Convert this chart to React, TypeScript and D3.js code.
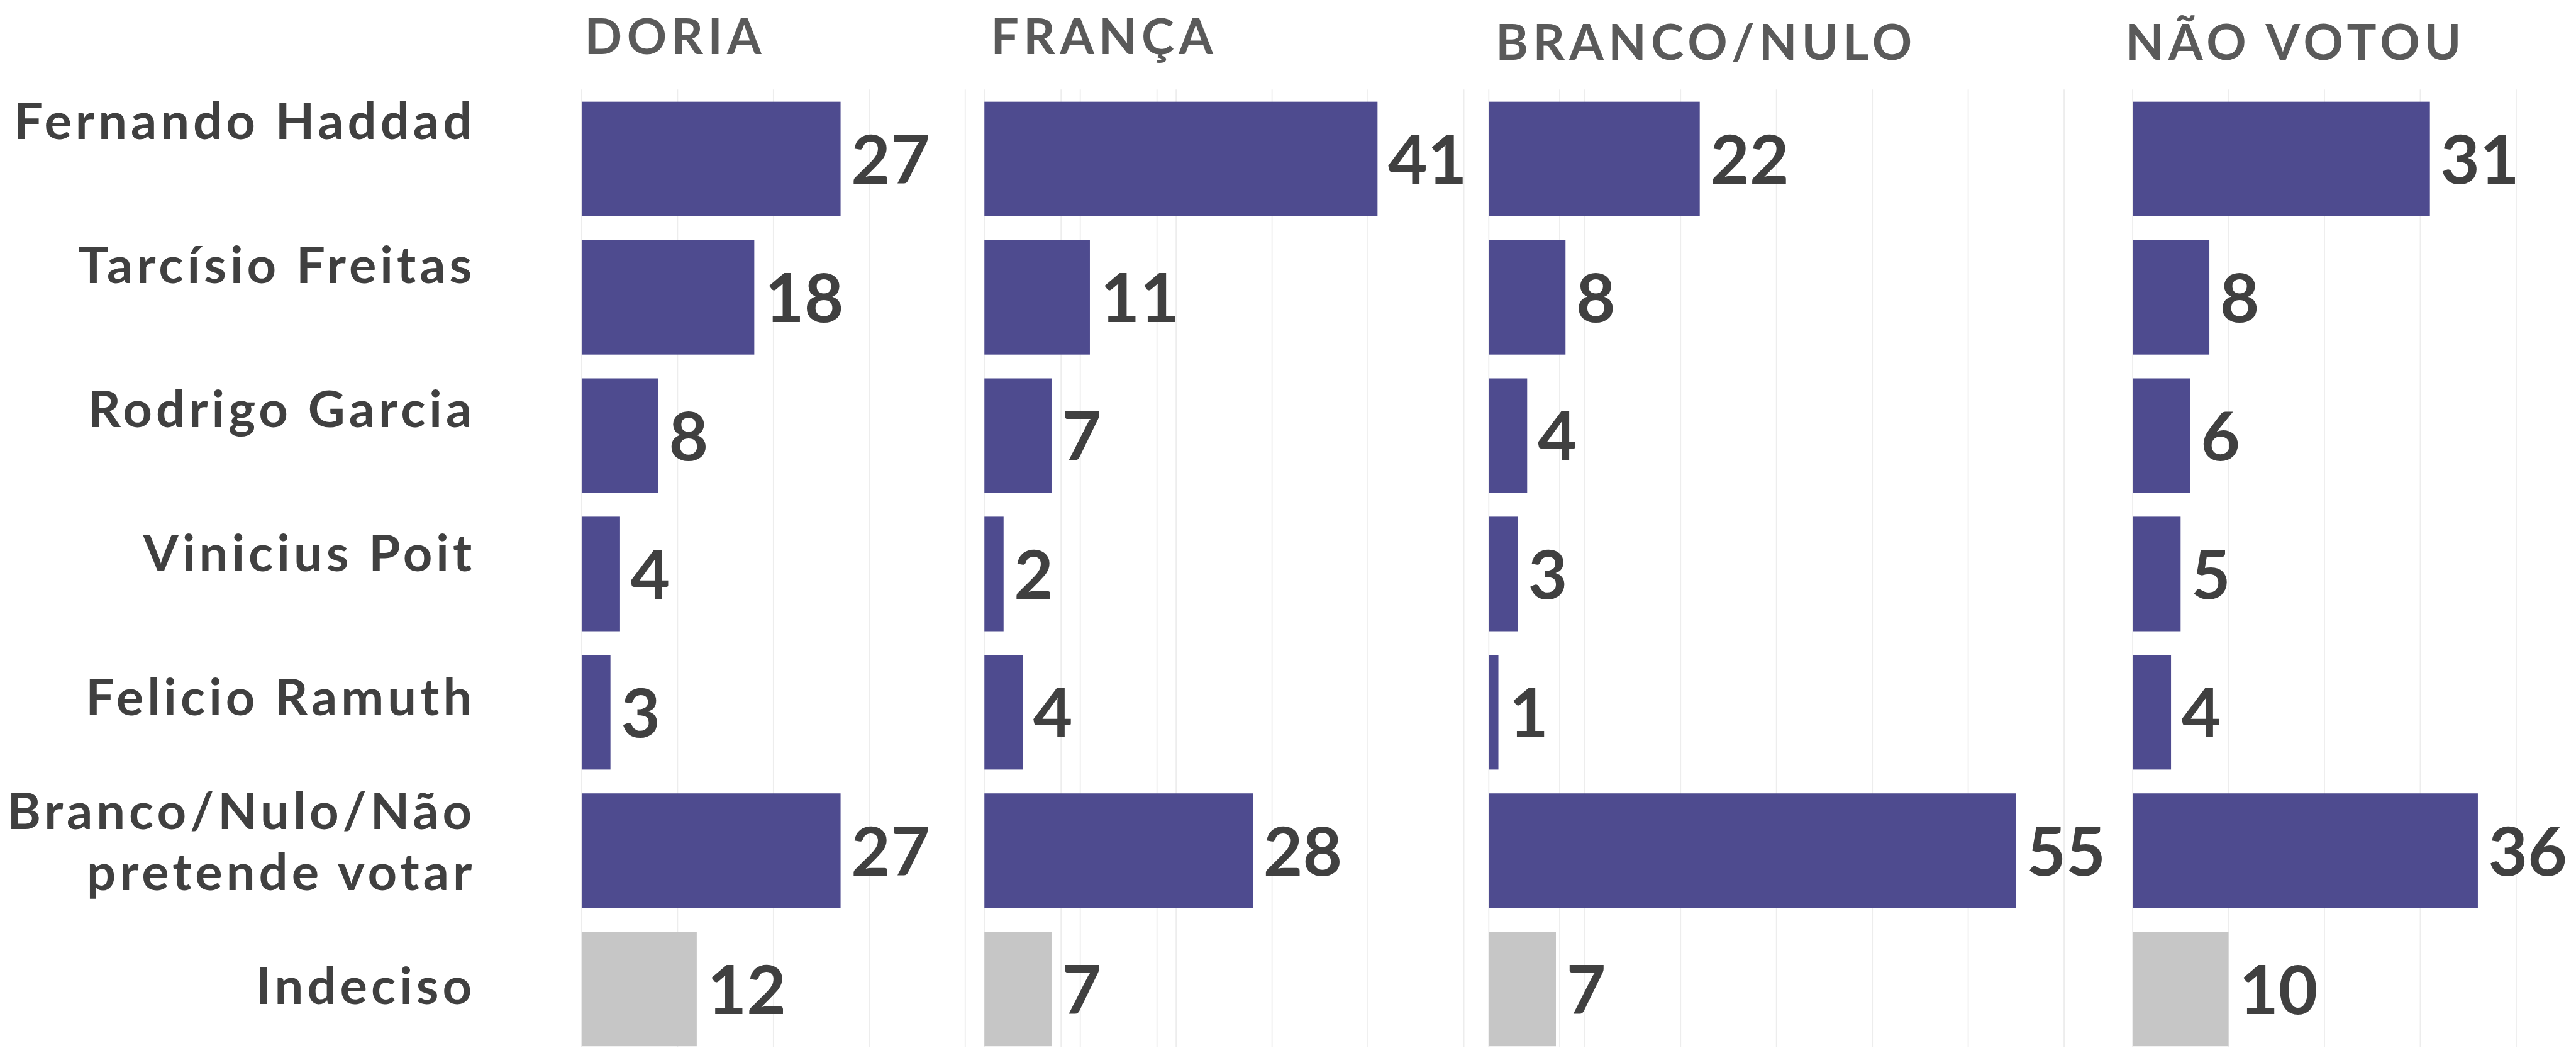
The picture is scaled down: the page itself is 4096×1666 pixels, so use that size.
import React from "react";
import * as d3 from "d3";

const categories = [
  "Fernando Haddad",
  "Tarcísio Freitas",
  "Rodrigo Garcia",
  "Vinicius Poit",
  "Felicio Ramuth",
  "Branco/Nulo/Não pretende votar",
  "Indeciso",
];
const categoryLines: string[][] = [
  ["Fernando Haddad"],
  ["Tarcísio Freitas"],
  ["Rodrigo Garcia"],
  ["Vinicius Poit"],
  ["Felicio Ramuth"],
  ["Branco/Nulo/Não", "pretende votar"],
  ["Indeciso"],
];
const panels = ["DORIA", "FRANÇA", "BRANCO/NULO", "NÃO VOTOU"];
const doria = [27, 18, 8, 4, 3, 27, 12];
const franca = [41, 11, 7, 2, 4, 28, 7];
const brancoNulo = [22, 8, 4, 3, 1, 55, 7];
const naoVotou = [31, 8, 6, 5, 4, 36, 10];
const seriesValues = [doria, franca, brancoNulo, naoVotou];
const gridTicks = [0, 10, 20, 30, 40, 50, 60];
const undecidedCategory = "Indeciso";

// layout (reference pixel space, scaled by S)
const S = 0.924;
const W = 4096;
const H = 1666;
const REF_H = 1802;
const panelX = [1001, 1694, 2562, 3670];
const titleX = [1006, 1705, 2574, 3658];
const titleY = [93, 93, 103, 103];
const PURPLE = "#4E4B8F";
const GREY = "#C6C6C6";
const TEXT = "#404040";
const TITLE = "#5A5A5A";
const GRID = "#EDEDED";
const FONT = "Lato, 'Open Sans', sans-serif";
const LABEL_LS = 6.5;

export default function App() {
  const x = d3.scaleLinear().domain([0, 60]).range([0, 990]);
  const y = d3
    .scaleBand<string>()
    .domain(categories)
    .range([154.5, 154.5 + 7 * 238])
    .paddingInner(0.172)
    .paddingOuter(0.086);
  const yLabel = d3
    .scaleBand<string>()
    .domain(categories)
    .range([209 - 124, 209 - 124 + 7 * 248]);

  return (
    <svg
      width={W}
      height={H}
      style={{ position: "absolute", left: 0, top: 0, display: "block", background: "#fff" }}
    >
      <rect width={W} height={H} fill="#fff" />
      <g transform={`scale(${S})`}>
        {/* gridlines */}
        {panels.map((p, pi) => (
          <g key={"g" + p} transform={`translate(${panelX[pi]},0)`}>
            {gridTicks.map((t) => (
              <line
                key={t}
                x1={x(t)}
                x2={x(t)}
                y1={154}
                y2={REF_H}
                stroke={GRID}
                strokeWidth={2}
              />
            ))}
          </g>
        ))}
        {/* category labels */}
        {categories.map((c, i) => {
          const lines = categoryLines[i];
          const cy = (yLabel(c) as number) + yLabel.bandwidth() / 2;
          const lh = 105;
          const first = cy + 30 - ((lines.length - 1) * lh) / 2;
          return (
            <text
              key={c}
              textAnchor="end"
              fontFamily={FONT}
              fontWeight={700}
              fontSize={88}
              letterSpacing={LABEL_LS}
              fill={TEXT}
            >
              {lines.map((ln, li) => (
                <tspan key={li} x={812 + LABEL_LS} y={first + li * lh}>
                  {ln}
                </tspan>
              ))}
            </text>
          );
        })}
        {/* panels */}
        {panels.map((p, pi) => (
          <g key={p} transform={`translate(${panelX[pi]},0)`}>
            <text
              x={titleX[pi] - panelX[pi]}
              y={titleY[pi]}
              fontFamily={FONT}
              fontWeight={700}
              fontSize={85}
              letterSpacing={8}
              fill={TITLE}
            >
              {p}
            </text>
            {categories.map((c, i) => {
              const v = seriesValues[pi][i];
              const y0 = y(c) as number;
              return (
                <g key={c}>
                  <rect
                    x={x(0)}
                    y={y0}
                    width={x(v) - x(0)}
                    height={y.bandwidth()}
                    fill={c === undecidedCategory ? GREY : PURPLE}
                  />
                  <text
                    x={x(v) + 18}
                    y={y0 + y.bandwidth() / 2 + 43}
                    fontFamily={FONT}
                    fontWeight={700}
                    fontSize={117}
                    fill={TEXT}
                  >
                    {v}
                  </text>
                </g>
              );
            })}
          </g>
        ))}
      </g>
    </svg>
  );
}
